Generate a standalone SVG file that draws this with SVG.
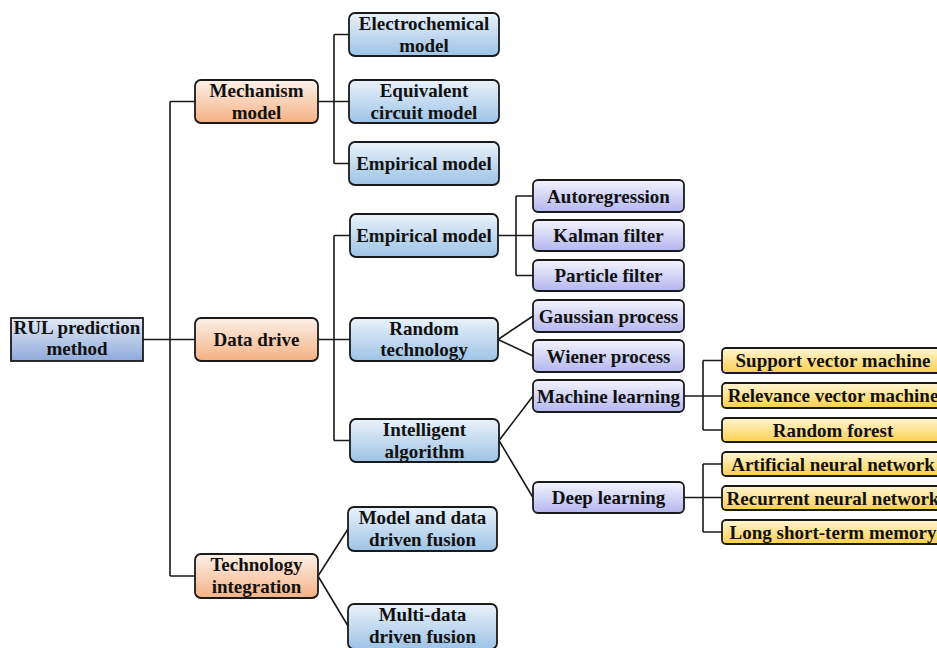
<svg xmlns="http://www.w3.org/2000/svg" width="937" height="648" viewBox="0 0 937 648">
<defs>
<linearGradient id="gRoot" x1="0" y1="0" x2="0" y2="1"><stop offset="0" stop-color="#e4eaf6"/><stop offset="1" stop-color="#8eaadb"/></linearGradient>
<linearGradient id="gOr" x1="0" y1="0" x2="0" y2="1"><stop offset="0" stop-color="#fdf1e9"/><stop offset="1" stop-color="#f4b183"/></linearGradient>
<linearGradient id="gBl" x1="0" y1="0" x2="0" y2="1"><stop offset="0" stop-color="#eaf2fa"/><stop offset="1" stop-color="#9dc3e6"/></linearGradient>
<linearGradient id="gLv" x1="0" y1="0" x2="0" y2="1"><stop offset="0" stop-color="#f4f4fd"/><stop offset="1" stop-color="#b3b6ee"/></linearGradient>
<linearGradient id="gYe" x1="0" y1="0" x2="0" y2="1"><stop offset="0" stop-color="#fff6d6"/><stop offset="1" stop-color="#fbcf4e"/></linearGradient>
</defs>
<style>
rect{stroke:#1a1a1a;stroke-width:1.8}
.r{fill:url(#gRoot)}
.o{fill:url(#gOr)}
.b{fill:url(#gBl)}
.l{fill:url(#gLv)}
.y{fill:url(#gYe)}
text{font-family:"Liberation Serif","Times New Roman",serif;font-weight:bold;font-size:19px;fill:#111;text-anchor:middle}
#connectors path{fill:none;stroke:#1a1a1a;stroke-width:1.6}
</style>
<g id="connectors">
<path d="M143 339.5H195"/>
<path d="M170 101.5V576M170 101.5H195M170 576H195"/>
<path d="M318 101.5H349M334 34.5V163.5M334 34.5H349M334 163.5H349"/>
<path d="M318 339.5H350M334 235.5V440.5M334 235.5H350M334 440.5H350"/>
<path d="M498 235.5H533M516 196V275.5M516 196H533M516 275.5H533"/>
<path d="M498 339.5L533 316M498 339.5L533 356"/>
<path d="M499 440.5L533 396M499 440.5L533 497.5"/>
<path d="M684 396H722M703 360.5V430M703 360.5H722M703 430H722"/>
<path d="M684 497.5H722M703 464V532M703 464H722M703 532H722"/>
<path d="M318 576L348 529M318 576L348 626"/>
</g>
<g id="root"><rect class="r" x="11" y="318" width="132" height="43"/><text x="77" y="334">RUL prediction</text><text x="77" y="355">method</text></g>
<g id="mechanism"><rect class="o" x="195" y="80" width="123" height="43" rx="6"/><text x="256.5" y="97">Mechanism</text><text x="256.5" y="118.5">model</text></g>
<g id="datadrive"><rect class="o" x="195" y="318" width="123" height="43" rx="6"/><text x="256.5" y="346">Data drive</text></g>
<g id="techint"><rect class="o" x="195" y="554" width="123" height="44" rx="6"/><text x="256.5" y="571">Technology</text><text x="256.5" y="593">integration</text></g>
<g id="electro"><rect class="b" x="349" y="13" width="150" height="43" rx="6"/><text x="424" y="30">Electrochemical</text><text x="424" y="51.5">model</text></g>
<g id="equiv"><rect class="b" x="349" y="80" width="150" height="43" rx="6"/><text x="424" y="97">Equivalent</text><text x="424" y="118.5">circuit model</text></g>
<g id="empirical1"><rect class="b" x="349" y="142" width="150" height="43" rx="6"/><text x="424" y="170">Empirical model</text></g>
<g id="empirical2"><rect class="b" x="350" y="214" width="148" height="43" rx="6"/><text x="424" y="242">Empirical model</text></g>
<g id="randomtech"><rect class="b" x="350" y="318" width="148" height="43" rx="6"/><text x="424" y="334.5">Random</text><text x="424" y="356">technology</text></g>
<g id="intelligent"><rect class="b" x="350" y="419" width="149" height="43" rx="6"/><text x="424.5" y="436">Intelligent</text><text x="424.5" y="457.5">algorithm</text></g>
<g id="modeldata"><rect class="b" x="348" y="507" width="149" height="44" rx="6"/><text x="422.5" y="524">Model and data</text><text x="422.5" y="546">driven fusion</text></g>
<g id="multidata"><rect class="b" x="348" y="604" width="149" height="45" rx="6"/><text x="422.5" y="621">Multi-data</text><text x="422.5" y="643">driven fusion</text></g>
<g id="autoreg"><rect class="l" x="533" y="180" width="151" height="32" rx="5"/><text x="608.5" y="202.5">Autoregression</text></g>
<g id="kalman"><rect class="l" x="533" y="220" width="151" height="31" rx="5"/><text x="608.5" y="242">Kalman filter</text></g>
<g id="particle"><rect class="l" x="533" y="260" width="151" height="31" rx="5"/><text x="608.5" y="282">Particle filter</text></g>
<g id="gaussian"><rect class="l" x="533" y="300" width="151" height="32" rx="5"/><text x="608.5" y="322.5">Gaussian process</text></g>
<g id="wiener"><rect class="l" x="533" y="340" width="151" height="32" rx="5"/><text x="608.5" y="362.5">Wiener process</text></g>
<g id="machine"><rect class="l" x="533" y="380" width="151" height="32" rx="5"/><text x="608.5" y="402.5">Machine learning</text></g>
<g id="deep"><rect class="l" x="533" y="482" width="151" height="31" rx="5"/><text x="608.5" y="504">Deep learning</text></g>
<g id="svm"><rect class="y" x="722" y="348" width="222" height="25" rx="4"/><text x="833" y="367">Support vector machine</text></g>
<g id="rvm"><rect class="y" x="722" y="383" width="222" height="25" rx="4"/><text x="833" y="402">Relevance vector machine</text></g>
<g id="rf"><rect class="y" x="722" y="418" width="222" height="24" rx="4"/><text x="833" y="436.5">Random forest</text></g>
<g id="ann"><rect class="y" x="722" y="452" width="222" height="24" rx="4"/><text x="833" y="470.5">Artificial neural network</text></g>
<g id="rnn"><rect class="y" x="722" y="486" width="222" height="24" rx="4"/><text x="833" y="504.5">Recurrent neural network</text></g>
<g id="lstm"><rect class="y" x="722" y="520" width="222" height="24" rx="4"/><text x="833" y="538.5">Long short-term memory</text></g>
</svg>
